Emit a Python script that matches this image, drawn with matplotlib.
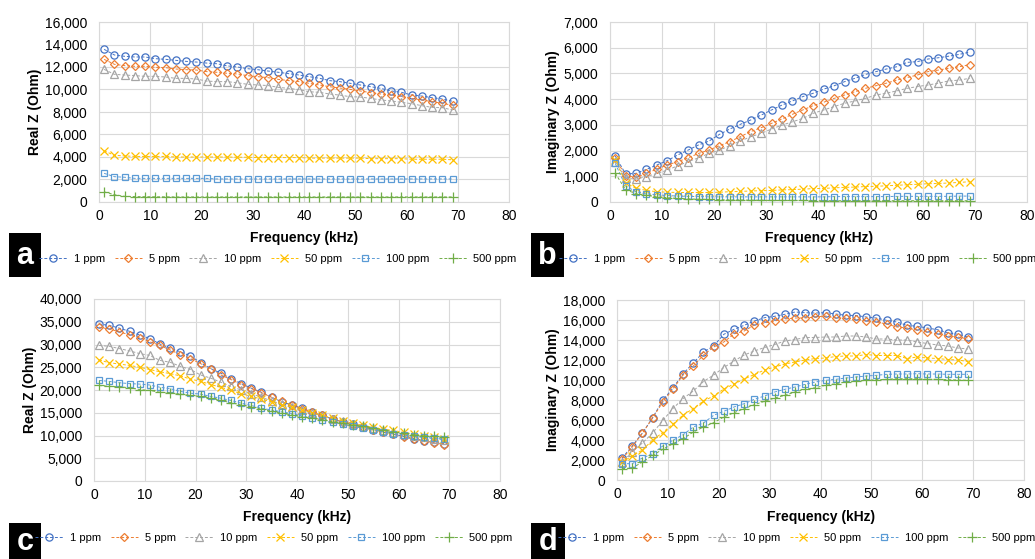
import matplotlib
matplotlib.use("Agg")
import matplotlib.pyplot as plt
from matplotlib.patches import Rectangle
from matplotlib.ticker import FuncFormatter, MultipleLocator

plt.rcParams['font.family'] = ['Liberation Sans', 'DejaVu Sans']

# ---------------- data ----------------
freq = list(range(1, 70, 2))  # kHz
series_names = ["1 ppm", "5 ppm", "10 ppm", "50 ppm", "100 ppm", "500 ppm"]

# Panel a: Real Z (Ohm)
a_1 = [13570, 13070, 12950, 12890, 12890, 12740, 12680, 12590, 12500, 12440, 12350, 12290, 12100, 12000, 11850,
       11760, 11640, 11530, 11410, 11290, 11140, 11000, 10790, 10700, 10550, 10400, 10250, 10100, 9870, 9750,
       9510, 9420, 9270, 9160, 8950]
a_5 = [12680, 12240, 12120, 12060, 12060, 11970, 11940, 11820, 11760, 11730, 11590, 11530, 11440, 11380, 11230,
       11140, 11050, 10900, 10790, 10700, 10550, 10400, 10250, 10130, 10010, 9870, 9720, 9600, 9510, 9360,
       9210, 9070, 8920, 8770, 8600]
a_10 = [11790, 11350, 11290, 11230, 11170, 11170, 11110, 10990, 10990, 10930, 10750, 10700, 10700, 10600, 10460,
        10400, 10350, 10190, 10100, 9990, 9800, 9750, 9600, 9500, 9360, 9330, 9210, 9070, 8980, 8860,
        8740, 8560, 8410, 8380, 8180]
a_50 = [4550, 4150, 4100, 4050, 4050, 4050, 4050, 4000, 4000, 4000, 4000, 4000, 4000, 3980, 3980,
        3950, 3950, 3950, 3950, 3950, 3900, 3900, 3900, 3900, 3900, 3900, 3850, 3850, 3850, 3850,
        3800, 3800, 3800, 3800, 3750]
a_100 = [2550, 2250, 2200, 2100, 2100, 2100, 2100, 2100, 2100, 2100, 2100, 2050, 2050, 2050, 2050,
         2050, 2050, 2050, 2050, 2050, 2050, 2050, 2050, 2050, 2050, 2050, 2050, 2050, 2050, 2050,
         2050, 2050, 2050, 2050, 2050]
a_500 = [900, 650, 500, 480, 470, 460, 460, 450, 450, 450, 450, 450, 450, 450, 450,
         450, 450, 450, 450, 450, 450, 450, 450, 450, 450, 450, 450, 450, 450, 450,
         450, 450, 450, 450, 450]

# Panel b: Imaginary Z (Ohm)
b_1 = [1790, 1090, 1115, 1270, 1440, 1610, 1830, 2020, 2220, 2370, 2630, 2840, 3020, 3190, 3380,
       3580, 3770, 3930, 4100, 4230, 4390, 4520, 4680, 4810, 4960, 5070, 5170, 5260, 5430, 5460,
       5560, 5610, 5670, 5740, 5830]
b_5 = [1700, 1020, 960, 1110, 1280, 1440, 1570, 1720, 1890, 2020, 2190, 2350, 2540, 2740, 2890,
       3060, 3230, 3410, 3580, 3750, 3880, 4030, 4160, 4290, 4420, 4520, 4620, 4740, 4840, 4940,
       5070, 5130, 5200, 5260, 5340]
b_10 = [1570, 920, 890, 990, 1110, 1240, 1410, 1570, 1720, 1890, 2020, 2190, 2370, 2540, 2670,
        2840, 2990, 3120, 3250, 3450, 3580, 3710, 3840, 3930, 4030, 4160, 4230, 4320, 4420, 4490,
        4550, 4620, 4710, 4740, 4810]
b_50 = [1650, 750, 530, 450, 400, 380, 370, 370, 370, 370, 380, 400, 410, 430, 440,
        450, 470, 480, 500, 520, 530, 550, 570, 580, 600, 610, 630, 650, 670, 690,
        710, 720, 740, 760, 790]
b_100 = [1500, 620, 400, 320, 280, 250, 230, 220, 210, 200, 200, 200, 200, 200, 200,
         200, 200, 200, 200, 200, 200, 210, 210, 210, 210, 210, 210, 220, 220, 220,
         220, 220, 220, 230, 230]
b_500 = [1120, 470, 330, 260, 200, 170, 140, 120, 110, 100, 90, 80, 80, 70, 70,
         60, 60, 60, 60, 50, 50, 50, 50, 50, 50, 50, 50, 50, 50, 50,
         50, 50, 50, 50, 50]

# Panel c: Real Z (Ohm)
c_1 = [34500, 34200, 33600, 32900, 32100, 31300, 30100, 29200, 28400, 27500, 26000, 24700, 23700, 22500, 21400,
       20400, 19500, 18400, 17400, 16700, 16000, 15200, 14400, 13600, 13000, 12500, 11900, 11300, 10700, 10300,
       9800, 9300, 8900, 8500, 8200]
c_5 = [33800, 33400, 32800, 32100, 31500, 30600, 29800, 28800, 27800, 26900, 25800, 24700, 23300, 22300, 21200,
       20300, 19400, 18400, 17500, 16600, 15900, 15100, 14400, 13600, 13000, 12300, 11800, 11200, 10800, 10300,
       9700, 9200, 8800, 8400, 8000]
c_10 = [29800, 29600, 29100, 28600, 28000, 27600, 26500, 26100, 25200, 24500, 23300, 22600, 21700, 20800, 20000,
        19200, 18400, 17600, 16900, 16200, 15500, 14900, 14300, 13700, 13100, 12600, 12100, 11600, 11200, 10800,
        10400, 10000, 9600, 9300, 9000]
c_50 = [26600, 26000, 25700, 25400, 25000, 24500, 24000, 23600, 23100, 22400, 21900, 21200, 20600, 19900, 19200,
        18600, 18000, 17400, 16800, 16200, 15600, 15000, 14400, 13800, 13200, 12700, 12200, 11800, 11400, 11100,
        10700, 10400, 10000, 9700, 9300]
c_100 = [22100, 21900, 21600, 21400, 21300, 21100, 20600, 20300, 19700, 19300, 19100, 18600, 18200, 17700, 17100,
         16600, 16000, 15600, 15200, 14800, 14300, 13800, 13400, 12900, 12500, 12000, 11600, 11300, 10800, 10400,
         10100, 9800, 9600, 9400, 9200]
c_500 = [21000, 20800, 20700, 20500, 20100, 19900, 19500, 19400, 19100, 18800, 18600, 18200, 17700, 17200, 16700,
         16300, 15800, 15300, 14900, 14500, 14100, 13800, 13500, 13000, 12700, 12300, 12000, 11600, 11200, 10800,
         10500, 10200, 9900, 9800, 9600]

# Panel d: Imaginary Z (Ohm)
d_1 = [2200, 3400, 4700, 6230, 7970, 9200, 10630, 11700, 12800, 13400, 14570, 15070, 15470, 15900, 16230,
       16370, 16570, 16800, 16730, 16700, 16730, 16600, 16470, 16450, 16300, 16200, 15970, 15800, 15470, 15370,
       15200, 15030, 14730, 14570, 14300]
d_5 = [2100, 3300, 4700, 6200, 7800, 9100, 10500, 11400, 12500, 13300, 13800, 14600, 14900, 15500, 15700,
       15900, 16100, 16200, 16200, 16300, 16400, 16200, 16200, 16100, 15900, 15800, 15600, 15300, 15200, 15000,
       14800, 14600, 14400, 14300, 14100]
d_10 = [1850, 2850, 3700, 4700, 5950, 7150, 8150, 8900, 9850, 10500, 11250, 11900, 12500, 12900, 13250,
        13550, 13900, 14050, 14250, 14250, 14300, 14300, 14400, 14400, 14300, 14100, 14100, 14000, 14000, 13800,
        13650, 13500, 13400, 13200, 13100]
d_50 = [1800, 2400, 3000, 4000, 4750, 5600, 6500, 7150, 7900, 8400, 9100, 9600, 10100, 10550, 11000,
        11300, 11600, 11800, 12000, 12150, 12200, 12350, 12400, 12400, 12550, 12450, 12450, 12450, 12150, 12300,
        12200, 12150, 12050, 12000, 11850]
d_100 = [1630, 1630, 2200, 2630, 3400, 3970, 4530, 5300, 5700, 6470, 6870, 7300, 7630, 8070, 8400,
         8800, 9070, 9300, 9570, 9800, 9970, 10070, 10200, 10300, 10400, 10470, 10570, 10600, 10600, 10630,
         10600, 10600, 10570, 10570, 10570]
d_500 = [1130, 1200, 1800, 2470, 3070, 3630, 4130, 4800, 5300, 5730, 6300, 6730, 7130, 7530, 7870,
         8200, 8470, 8800, 9070, 9230, 9470, 9630, 9800, 9870, 9970, 10030, 10070, 10130, 10130, 10130,
         10070, 10070, 10030, 10000, 9970]

# ---------------- style ----------------
colors = ["#4472C4", "#ED7D31", "#A5A5A5", "#FFC000", "#5B9BD5", "#70AD47"]
markers = ["o", "D", "^", "x", "s", "+"]
msizes = [5.2, 4.2, 5.2, 5.2, 5.0, 6.5]
GRID = "#D9D9D9"

W, H = 1035, 559
fig = plt.figure(figsize=(W / 100, H / 100), dpi=100)


def px_axes(l, t, r, b):
    return fig.add_axes([l / W, 1 - b / H, (r - l) / W, (b - t) / H])


def panel(box, data, ymax, ystep, ylabel, ylab_xy, xlab_xy, leg_xy, letter_box, letter):
    ax = px_axes(*box)
    handles = []
    for vals, c, m, ms, name in zip(data, colors, markers, msizes, series_names):
        filled = m in ("x", "+")
        h, = ax.plot(freq, vals, linestyle=(0, (3, 2)), lw=0.7, color=c,
                     marker=m, markersize=ms, markeredgewidth=0.9,
                     markerfacecolor=(c if filled else "none"), markeredgecolor=c,
                     label=name, clip_on=False, zorder=3)
        handles.append(h)
    ax.set_xlim(0, 80)
    ax.set_ylim(0, ymax)
    ax.xaxis.set_major_locator(MultipleLocator(10))
    ax.yaxis.set_major_locator(MultipleLocator(ystep))
    ax.yaxis.set_major_formatter(FuncFormatter(lambda v, p: f"{int(v):,}"))
    ax.grid(True, color=GRID, lw=0.8)
    ax.set_axisbelow(True)
    for s in ax.spines.values():
        s.set_color(GRID)
        s.set_linewidth(0.8)
    ax.tick_params(axis="both", length=0, labelsize=10, colors="#000000")
    ax.tick_params(axis="x", pad=5)
    ax.tick_params(axis="y", pad=8.5)
    fig.text(ylab_xy[0] / W, 1 - ylab_xy[1] / H, ylabel, rotation=90, ha="center", va="center",
             fontsize=10, fontweight="bold")
    fig.text(xlab_xy[0] / W, 1 - xlab_xy[1] / H, "Frequency (kHz)", ha="center", va="center",
             fontsize=10, fontweight="bold")
    fig.legend(handles=handles, loc="center", bbox_to_anchor=(leg_xy[0] / W, 1 - leg_xy[1] / H),
               ncol=6, frameon=False, fontsize=8, handlelength=2.5, handletextpad=0.6,
               columnspacing=0.85, borderpad=0, borderaxespad=0)
    l, t, r, b = letter_box
    fig.patches.append(Rectangle((l / W, 1 - b / H), (r - l) / W, (b - t) / H,
                                 transform=fig.transFigure, facecolor="black", edgecolor="none"))
    fig.text((l + r) / 2 / W, 1 - ((t + b) / 2 + 1) / H, letter, color="white", ha="center", va="center",
             fontsize=22, fontweight="bold")
    return ax


panel((99, 22, 509, 202), [a_1, a_5, a_10, a_50, a_100, a_500], 16000, 2000, "Real Z (Ohm)",
      (35, 112), (304, 238), (278, 259), (9, 233, 41, 277), "a")
panel((610, 22, 1027, 202), [b_1, b_5, b_10, b_50, b_100, b_500], 7000, 1000, "Imaginary Z (Ohm)",
      (553, 112), (819, 238), (798, 259), (531, 233, 564, 277), "b")
panel((94, 299, 500, 481), [c_1, c_5, c_10, c_50, c_100, c_500], 40000, 5000, "Real Z (Ohm)",
      (30, 390), (297, 517), (274, 538), (9, 523, 41, 559), "c")
panel((617, 300, 1024, 480), [d_1, d_5, d_10, d_50, d_100, d_500], 18000, 2000, "Imaginary Z (Ohm)",
      (553, 390), (821, 517), (797, 538), (531, 523, 565, 559), "d")

fig.savefig("out.png", dpi=100, facecolor="white")
